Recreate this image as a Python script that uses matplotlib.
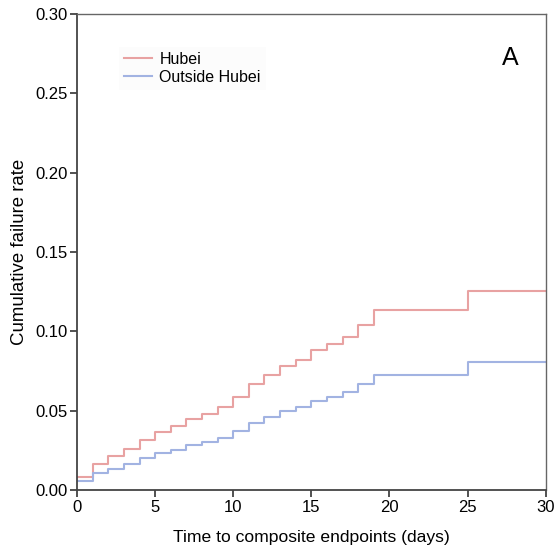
import matplotlib
matplotlib.use('Agg')
import matplotlib.pyplot as plt
import numpy as np

plt.rcParams['font.family'] = ['Liberation Sans', 'DejaVu Sans']

# step start times (days) and cumulative failure rate after each step
times = [0, 1, 2, 3, 4, 5, 6, 7, 8, 9, 10, 11, 12, 13, 14, 15, 16, 17, 18, 19, 25, 30]
hubei = [0.0084, 0.0164, 0.0215, 0.0259, 0.0316, 0.0366, 0.0404, 0.0450, 0.0476,
         0.0522, 0.0589, 0.0668, 0.0722, 0.0783, 0.0821, 0.0884, 0.0918, 0.0962,
         0.1038, 0.1137, 0.1255, 0.1255]
outside = [0.0055, 0.0105, 0.0133, 0.0164, 0.0200, 0.0232, 0.0253, 0.0286, 0.0301,
           0.0330, 0.0373, 0.0425, 0.0463, 0.0500, 0.0526, 0.0564, 0.0589, 0.0615,
           0.0668, 0.0727, 0.0804, 0.0804]

fig = plt.figure(figsize=(5.58, 5.52), dpi=100)
ax = fig.add_axes([0.138, 0.1123, 0.840, 0.8623])

ax.step(times, hubei, where='post', color='#e8a2a2', lw=1.5, label='Hubei')
ax.step(times, outside, where='post', color='#a2b3e2', lw=1.5, label='Outside Hubei')

ax.set_xlim(0, 30)
ax.set_ylim(0, 0.30)
ax.set_xticks(np.arange(0, 31, 5))
ax.set_yticks(np.arange(0, 0.301, 0.05))
ax.set_yticklabels([f'{v:.2f}' for v in np.arange(0, 0.301, 0.05)])
ax.tick_params(axis='both', labelsize=12, length=5, width=1.2, color='#333333', pad=2)
ax.tick_params(top=False, right=False)

for side in ['left', 'bottom']:
    ax.spines[side].set_linewidth(1.3)
    ax.spines[side].set_color('#444444')
for side in ['top', 'right']:
    ax.spines[side].set_linewidth(1.0)
    ax.spines[side].set_color('#666666')

ax.set_xlabel('Time to composite endpoints (days)', fontsize=12.6, labelpad=11)
ax.set_ylabel('Cumulative failure rate', fontsize=13.4, labelpad=5)

ax.text(27.75, 0.272, 'A', fontsize=18, ha='center', va='center')

leg = ax.legend(loc='upper left', bbox_to_anchor=(0.072, 0.948), fontsize=11.5,
                handlelength=1.8, handletextpad=0.45, labelspacing=0.2,
                frameon=True, fancybox=False, borderpad=0.3)
leg.get_frame().set_facecolor('#fcfcfc')
leg.get_frame().set_edgecolor('none')

fig.savefig('out.png', dpi=100)
